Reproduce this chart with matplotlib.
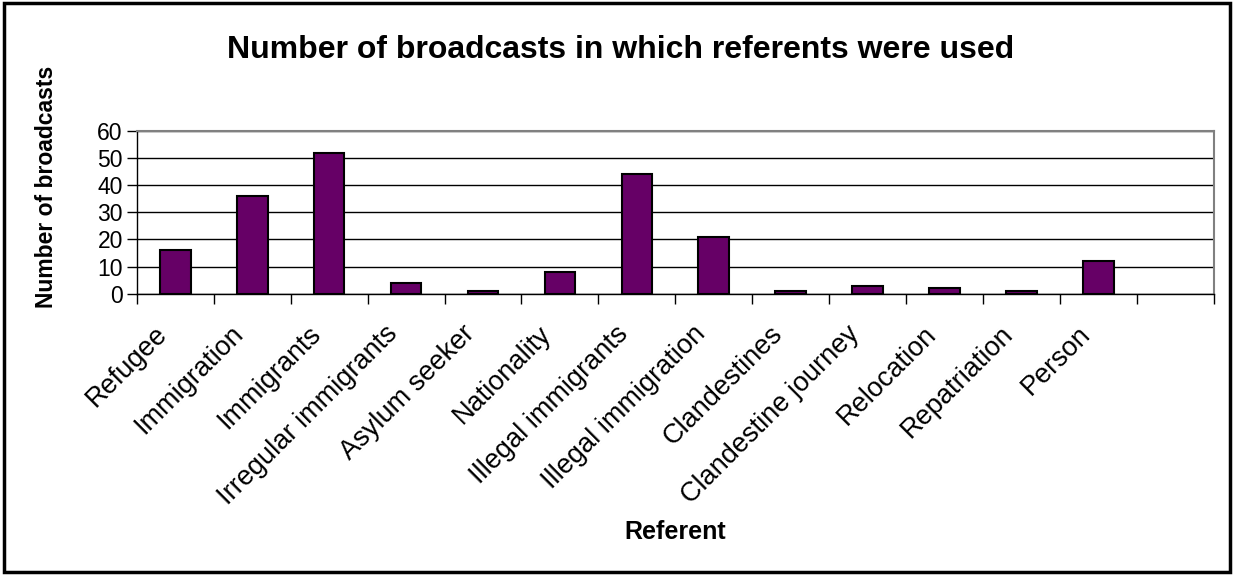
import matplotlib.pyplot as plt
from matplotlib.patches import Rectangle

plt.rcParams["font.family"] = ["Liberation Sans", "DejaVu Sans"]

referents = [
    "Refugee", "Immigration", "Immigrants", "Irregular immigrants",
    "Asylum seeker", "Nationality", "Illegal immigrants", "Illegal immigration",
    "Clandestines", "Clandestine journey", "Relocation", "Repatriation", "Person",
]
broadcasts = [16, 36, 52, 4, 1, 8, 44, 21, 1, 3, 2, 1, 12]
y_ticks = [0, 10, 20, 30, 40, 50, 60]
n_slots = 14  # one empty slot after the last category

fig = plt.figure(figsize=(12.34, 5.75), dpi=100)
ax = fig.add_axes([0.1108, 0.4892, 0.8730, 0.2830])

x = list(range(len(broadcasts)))
ax.bar(x, broadcasts, width=0.4, color="#660066", edgecolor="black", linewidth=1.5, zorder=3)

ax.set_xlim(-0.5, n_slots - 0.5)
ax.set_ylim(0, 60)
ax.set_yticks(y_ticks)
ax.tick_params(axis="y", labelsize=16.5, direction="out", length=7, width=1, pad=3)
ax.yaxis.grid(True, color="black", linewidth=1, zorder=0)

# category boundary ticks
ax.set_xticks([i - 0.5 for i in range(n_slots + 1)])
ax.set_xticklabels([])
ax.tick_params(axis="x", direction="out", length=7, width=1)
for i, name in enumerate(referents):
    ax.text(i - 0.28, -10, name, rotation=45, ha="right", va="top",
            rotation_mode="anchor", fontsize=19.5)

for side in ["top", "right"]:
    ax.spines[side].set_color("#808080")
    ax.spines[side].set_linewidth(1.5)
for side in ["left", "bottom"]:
    ax.spines[side].set_color("black")
    ax.spines[side].set_linewidth(1)

fig.text(0.503, 0.913, "Number of broadcasts in which referents were used",
         ha="center", va="center", fontsize=23, fontweight="bold")
fig.text(0.038, 0.675, "Number of broadcasts", rotation=90,
         ha="center", va="center", fontsize=16.5, fontweight="bold")
fig.text(0.547, 0.075, "Referent", ha="center", va="center",
         fontsize=18, fontweight="bold")

fig.patches.append(Rectangle((0.003, 0.005), 0.994, 0.99, transform=fig.transFigure,
                             fill=False, edgecolor="black", linewidth=2.5))

fig.savefig("out.png", dpi=100)
